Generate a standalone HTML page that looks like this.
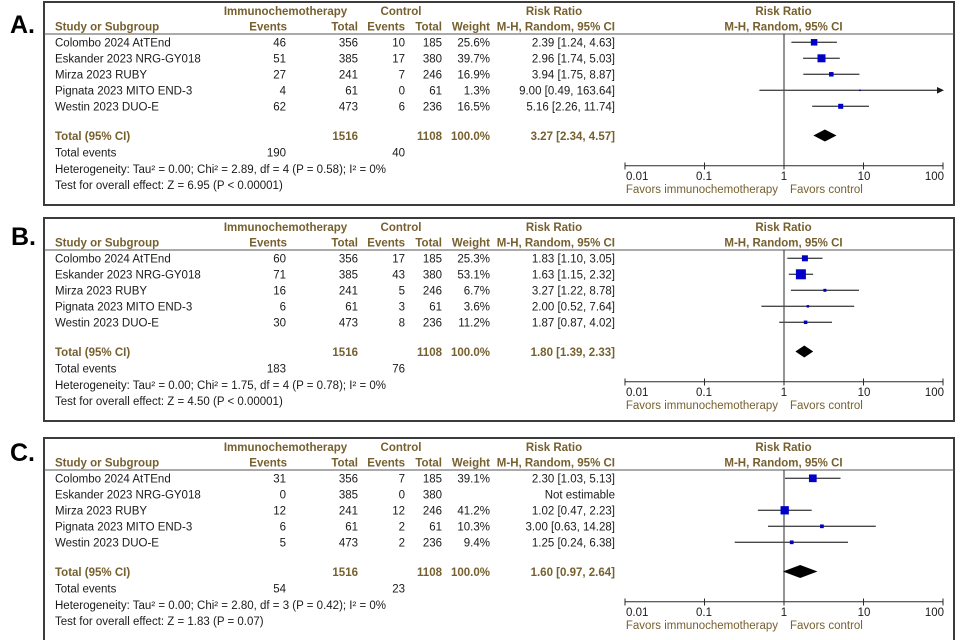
<!DOCTYPE html>
<html>
<head>
<meta charset="utf-8">
<style>
html,body{margin:0;padding:0;background:#fff;}
svg{display:block;}
.t{font-family:"Liberation Sans",Arial,sans-serif;font-size:11.5px;fill:#1a1a1a;}
.h{font-weight:bold;fill:#76602f;}
.f{fill:#76602f;}
.r{text-anchor:end;}
.m{text-anchor:middle;}
.lab{font-family:"Liberation Sans",Arial,sans-serif;font-size:25px;font-weight:bold;fill:#000;}
.ci{stroke:#4a4a4a;stroke-width:1.3;}
.sq{fill:#0000c8;}
.ax{stroke:#2a2a2a;stroke-width:1;fill:none;}
</style>
</head>
<body>
<svg width="966" height="640" viewBox="0 0 966 640" xmlns="http://www.w3.org/2000/svg">

<!-- Panel labels -->
<text class="lab" x="10" y="33">A.</text>
<text class="lab" x="11" y="245">B.</text>
<text class="lab" x="10" y="461">C.</text>

<!-- ================= PANEL A ================= -->
<g transform="translate(0,0)">
  <rect x="44" y="2" width="910" height="203" fill="none" stroke="#3c3c3c" stroke-width="2"/>
  <line x1="44" y1="34" x2="954" y2="34" stroke="#555" stroke-width="1"/>
  <g class="t">
    <text class="h m" x="285.5" y="15">Immunochemotherapy</text>
    <text class="h m" x="401" y="15">Control</text>
    <text class="h m" x="554" y="15">Risk Ratio</text>
    <text class="h" x="55" y="30.5">Study or Subgroup</text>
    <text class="h r" x="287" y="30.5">Events</text>
    <text class="h r" x="358" y="30.5">Total</text>
    <text class="h r" x="405" y="30.5">Events</text>
    <text class="h r" x="442" y="30.5">Total</text>
    <text class="h r" x="490" y="30.5">Weight</text>
    <text class="h r" x="615" y="30.5">M-H, Random, 95% CI</text>
    <text class="h m" x="783.5" y="15">Risk Ratio</text>
    <text class="h m" x="783.5" y="30.5">M-H, Random, 95% CI</text>

    <text x="55" y="46.5">Colombo 2024 AtTEnd</text>
    <text class="r" x="286" y="46.5">46</text><text class="r" x="358" y="46.5">356</text><text class="r" x="405" y="46.5">10</text><text class="r" x="442" y="46.5">185</text><text class="r" x="490" y="46.5">25.6%</text><text class="r" x="615" y="46.5">2.39 [1.24, 4.63]</text>
    <text x="55" y="62.5">Eskander 2023 NRG-GY018</text>
    <text class="r" x="286" y="62.5">51</text><text class="r" x="358" y="62.5">385</text><text class="r" x="405" y="62.5">17</text><text class="r" x="442" y="62.5">380</text><text class="r" x="490" y="62.5">39.7%</text><text class="r" x="615" y="62.5">2.96 [1.74, 5.03]</text>
    <text x="55" y="78.5">Mirza 2023 RUBY</text>
    <text class="r" x="286" y="78.5">27</text><text class="r" x="358" y="78.5">241</text><text class="r" x="405" y="78.5">7</text><text class="r" x="442" y="78.5">246</text><text class="r" x="490" y="78.5">16.9%</text><text class="r" x="615" y="78.5">3.94 [1.75, 8.87]</text>
    <text x="55" y="94.5">Pignata 2023 MITO END-3</text>
    <text class="r" x="286" y="94.5">4</text><text class="r" x="358" y="94.5">61</text><text class="r" x="405" y="94.5">0</text><text class="r" x="442" y="94.5">61</text><text class="r" x="490" y="94.5">1.3%</text><text class="r" x="615" y="94.5">9.00 [0.49, 163.64]</text>
    <text x="55" y="110.5">Westin 2023 DUO-E</text>
    <text class="r" x="286" y="110.5">62</text><text class="r" x="358" y="110.5">473</text><text class="r" x="405" y="110.5">6</text><text class="r" x="442" y="110.5">236</text><text class="r" x="490" y="110.5">16.5%</text><text class="r" x="615" y="110.5">5.16 [2.26, 11.74]</text>

    <text class="h" x="55" y="140">Total (95% CI)</text>
    <text class="h r" x="358" y="140">1516</text><text class="h r" x="442" y="140">1108</text><text class="h r" x="490" y="140">100.0%</text><text class="h r" x="615" y="140">3.27 [2.34, 4.57]</text>
    <text x="55" y="156.5">Total events</text>
    <text class="r" x="286" y="156.5">190</text><text class="r" x="405" y="156.5">40</text>
    <text x="55" y="173">Heterogeneity: Tau² = 0.00; Chi² = 2.89, df = 4 (P = 0.58); I² = 0%</text>
    <text x="55" y="189">Test for overall effect: Z = 6.95 (P &lt; 0.00001)</text>

    <text x="626" y="180">0.01</text>
    <text class="m" x="704" y="180">0.1</text>
    <text class="m" x="784" y="180">1</text>
    <text class="m" x="864" y="180">10</text>
    <text class="r" x="944" y="180">100</text>
    <text class="f r" x="778" y="193">Favors immunochemotherapy</text>
    <text class="f" x="790" y="193">Favors control</text>
  </g>
  <line class="ax" x1="784" y1="34" x2="784" y2="166"/>
  <line class="ax" x1="625" y1="165.7" x2="943" y2="165.7"/>
  <path class="ax" d="M625 162.5V169.5M704.5 162.5V169.5M784 162.5V169.5M863.5 162.5V169.5M943 162.5V169.5"/>
  <line class="ci" x1="791.4" y1="42.3" x2="836.9" y2="42.3"/>
  <rect class="sq" x="810.85" y="39.05" width="6.5" height="6.5"/>
  <line class="ci" x1="803.1" y1="58.3" x2="839.8" y2="58.3"/>
  <rect class="sq" x="817.5" y="54.3" width="8" height="8"/>
  <line class="ci" x1="803.3" y1="74.3" x2="859.4" y2="74.3"/>
  <rect class="sq" x="829.05" y="72.05" width="4.5" height="4.5"/>
  <line class="ci" x1="759.4" y1="90.3" x2="938" y2="90.3"/>
  <polygon points="937,87 944,90.3 937,93.6" fill="#1a1a1a"/>
  <rect class="sq" x="859.1" y="89.5" width="1.6" height="1.6"/>
  <line class="ci" x1="812.2" y1="106.3" x2="869" y2="106.3"/>
  <rect class="sq" x="838.2" y="103.8" width="5" height="5"/>
  <polygon points="813.4,135.5 824.9,129.5 836.5,135.5 824.9,141.5" fill="#000"/>
</g>

<!-- ================= PANEL B ================= -->
<g transform="translate(0,216)">
  <rect x="44" y="2" width="910" height="203" fill="none" stroke="#3c3c3c" stroke-width="2"/>
  <line x1="44" y1="34" x2="954" y2="34" stroke="#555" stroke-width="1"/>
  <g class="t">
    <text class="h m" x="285.5" y="15">Immunochemotherapy</text>
    <text class="h m" x="401" y="15">Control</text>
    <text class="h m" x="554" y="15">Risk Ratio</text>
    <text class="h" x="55" y="30.5">Study or Subgroup</text>
    <text class="h r" x="287" y="30.5">Events</text>
    <text class="h r" x="358" y="30.5">Total</text>
    <text class="h r" x="405" y="30.5">Events</text>
    <text class="h r" x="442" y="30.5">Total</text>
    <text class="h r" x="490" y="30.5">Weight</text>
    <text class="h r" x="615" y="30.5">M-H, Random, 95% CI</text>
    <text class="h m" x="783.5" y="15">Risk Ratio</text>
    <text class="h m" x="783.5" y="30.5">M-H, Random, 95% CI</text>

    <text x="55" y="46.5">Colombo 2024 AtTEnd</text>
    <text class="r" x="286" y="46.5">60</text><text class="r" x="358" y="46.5">356</text><text class="r" x="405" y="46.5">17</text><text class="r" x="442" y="46.5">185</text><text class="r" x="490" y="46.5">25.3%</text><text class="r" x="615" y="46.5">1.83 [1.10, 3.05]</text>
    <text x="55" y="62.5">Eskander 2023 NRG-GY018</text>
    <text class="r" x="286" y="62.5">71</text><text class="r" x="358" y="62.5">385</text><text class="r" x="405" y="62.5">43</text><text class="r" x="442" y="62.5">380</text><text class="r" x="490" y="62.5">53.1%</text><text class="r" x="615" y="62.5">1.63 [1.15, 2.32]</text>
    <text x="55" y="78.5">Mirza 2023 RUBY</text>
    <text class="r" x="286" y="78.5">16</text><text class="r" x="358" y="78.5">241</text><text class="r" x="405" y="78.5">5</text><text class="r" x="442" y="78.5">246</text><text class="r" x="490" y="78.5">6.7%</text><text class="r" x="615" y="78.5">3.27 [1.22, 8.78]</text>
    <text x="55" y="94.5">Pignata 2023 MITO END-3</text>
    <text class="r" x="286" y="94.5">6</text><text class="r" x="358" y="94.5">61</text><text class="r" x="405" y="94.5">3</text><text class="r" x="442" y="94.5">61</text><text class="r" x="490" y="94.5">3.6%</text><text class="r" x="615" y="94.5">2.00 [0.52, 7.64]</text>
    <text x="55" y="110.5">Westin 2023 DUO-E</text>
    <text class="r" x="286" y="110.5">30</text><text class="r" x="358" y="110.5">473</text><text class="r" x="405" y="110.5">8</text><text class="r" x="442" y="110.5">236</text><text class="r" x="490" y="110.5">11.2%</text><text class="r" x="615" y="110.5">1.87 [0.87, 4.02]</text>

    <text class="h" x="55" y="140">Total (95% CI)</text>
    <text class="h r" x="358" y="140">1516</text><text class="h r" x="442" y="140">1108</text><text class="h r" x="490" y="140">100.0%</text><text class="h r" x="615" y="140">1.80 [1.39, 2.33]</text>
    <text x="55" y="156.5">Total events</text>
    <text class="r" x="286" y="156.5">183</text><text class="r" x="405" y="156.5">76</text>
    <text x="55" y="173">Heterogeneity: Tau² = 0.00; Chi² = 1.75, df = 4 (P = 0.78); I² = 0%</text>
    <text x="55" y="189">Test for overall effect: Z = 4.50 (P &lt; 0.00001)</text>

    <text x="626" y="180">0.01</text>
    <text class="m" x="704" y="180">0.1</text>
    <text class="m" x="784" y="180">1</text>
    <text class="m" x="864" y="180">10</text>
    <text class="r" x="944" y="180">100</text>
    <text class="f r" x="778" y="193">Favors immunochemotherapy</text>
    <text class="f" x="790" y="193">Favors control</text>
  </g>
  <line class="ax" x1="784" y1="34" x2="784" y2="166"/>
  <line class="ax" x1="625" y1="165.7" x2="943" y2="165.7"/>
  <path class="ax" d="M625 162.5V169.5M704.5 162.5V169.5M784 162.5V169.5M863.5 162.5V169.5M943 162.5V169.5"/>
  <line class="ci" x1="787.3" y1="42.3" x2="822.5" y2="42.3"/>
  <rect class="sq" x="801.9" y="39.3" width="6" height="6"/>
  <line class="ci" x1="788.8" y1="58.3" x2="813.1" y2="58.3"/>
  <rect class="sq" x="795.9" y="53.3" width="10" height="10"/>
  <line class="ci" x1="790.9" y1="74.3" x2="859" y2="74.3"/>
  <rect class="sq" x="823.4" y="72.8" width="3" height="3"/>
  <line class="ci" x1="761.4" y1="90.3" x2="854.2" y2="90.3"/>
  <rect class="sq" x="806.65" y="89.05" width="2.5" height="2.5"/>
  <line class="ci" x1="779.2" y1="106.3" x2="832" y2="106.3"/>
  <rect class="sq" x="803.85" y="104.55" width="3.5" height="3.5"/>
  <polygon points="795.4,135.5 804.3,129.5 813.2,135.5 804.3,141.5" fill="#000"/>
</g>

<!-- ================= PANEL C ================= -->
<g transform="translate(0,436)">
  <rect x="44" y="2" width="910" height="203" fill="none" stroke="#3c3c3c" stroke-width="2"/>
  <line x1="44" y1="34" x2="954" y2="34" stroke="#555" stroke-width="1"/>
  <g class="t">
    <text class="h m" x="285.5" y="15">Immunochemotherapy</text>
    <text class="h m" x="401" y="15">Control</text>
    <text class="h m" x="554" y="15">Risk Ratio</text>
    <text class="h" x="55" y="30.5">Study or Subgroup</text>
    <text class="h r" x="287" y="30.5">Events</text>
    <text class="h r" x="358" y="30.5">Total</text>
    <text class="h r" x="405" y="30.5">Events</text>
    <text class="h r" x="442" y="30.5">Total</text>
    <text class="h r" x="490" y="30.5">Weight</text>
    <text class="h r" x="615" y="30.5">M-H, Random, 95% CI</text>
    <text class="h m" x="783.5" y="15">Risk Ratio</text>
    <text class="h m" x="783.5" y="30.5">M-H, Random, 95% CI</text>

    <text x="55" y="46.5">Colombo 2024 AtTEnd</text>
    <text class="r" x="286" y="46.5">31</text><text class="r" x="358" y="46.5">356</text><text class="r" x="405" y="46.5">7</text><text class="r" x="442" y="46.5">185</text><text class="r" x="490" y="46.5">39.1%</text><text class="r" x="615" y="46.5">2.30 [1.03, 5.13]</text>
    <text x="55" y="62.5">Eskander 2023 NRG-GY018</text>
    <text class="r" x="286" y="62.5">0</text><text class="r" x="358" y="62.5">385</text><text class="r" x="405" y="62.5">0</text><text class="r" x="442" y="62.5">380</text><text class="r" x="615" y="62.5">Not estimable</text>
    <text x="55" y="78.5">Mirza 2023 RUBY</text>
    <text class="r" x="286" y="78.5">12</text><text class="r" x="358" y="78.5">241</text><text class="r" x="405" y="78.5">12</text><text class="r" x="442" y="78.5">246</text><text class="r" x="490" y="78.5">41.2%</text><text class="r" x="615" y="78.5">1.02 [0.47, 2.23]</text>
    <text x="55" y="94.5">Pignata 2023 MITO END-3</text>
    <text class="r" x="286" y="94.5">6</text><text class="r" x="358" y="94.5">61</text><text class="r" x="405" y="94.5">2</text><text class="r" x="442" y="94.5">61</text><text class="r" x="490" y="94.5">10.3%</text><text class="r" x="615" y="94.5">3.00 [0.63, 14.28]</text>
    <text x="55" y="110.5">Westin 2023 DUO-E</text>
    <text class="r" x="286" y="110.5">5</text><text class="r" x="358" y="110.5">473</text><text class="r" x="405" y="110.5">2</text><text class="r" x="442" y="110.5">236</text><text class="r" x="490" y="110.5">9.4%</text><text class="r" x="615" y="110.5">1.25 [0.24, 6.38]</text>

    <text class="h" x="55" y="140">Total (95% CI)</text>
    <text class="h r" x="358" y="140">1516</text><text class="h r" x="442" y="140">1108</text><text class="h r" x="490" y="140">100.0%</text><text class="h r" x="615" y="140">1.60 [0.97, 2.64]</text>
    <text x="55" y="156.5">Total events</text>
    <text class="r" x="286" y="156.5">54</text><text class="r" x="405" y="156.5">23</text>
    <text x="55" y="173">Heterogeneity: Tau² = 0.00; Chi² = 2.80, df = 3 (P = 0.42); I² = 0%</text>
    <text x="55" y="189">Test for overall effect: Z = 1.83 (P = 0.07)</text>

    <text x="626" y="180">0.01</text>
    <text class="m" x="704" y="180">0.1</text>
    <text class="m" x="784" y="180">1</text>
    <text class="m" x="864" y="180">10</text>
    <text class="r" x="944" y="180">100</text>
    <text class="f r" x="778" y="193">Favors immunochemotherapy</text>
    <text class="f" x="790" y="193">Favors control</text>
  </g>
  <line class="ax" x1="784" y1="34" x2="784" y2="166"/>
  <line class="ax" x1="625" y1="165.7" x2="943" y2="165.7"/>
  <path class="ax" d="M625 162.5V169.5M704.5 162.5V169.5M784 162.5V169.5M863.5 162.5V169.5M943 162.5V169.5"/>
  <line class="ci" x1="785" y1="42.3" x2="840.5" y2="42.3"/>
  <rect class="sq" x="808.95" y="38.45" width="7.7" height="7.7"/>
  <line class="ci" x1="757.9" y1="74.3" x2="811.7" y2="74.3"/>
  <rect class="sq" x="780.55" y="70.15" width="8.3" height="8.3"/>
  <line class="ci" x1="768" y1="90.3" x2="875.8" y2="90.3"/>
  <rect class="sq" x="820.05" y="88.45" width="3.7" height="3.7"/>
  <line class="ci" x1="734.7" y1="106.3" x2="848" y2="106.3"/>
  <rect class="sq" x="789.85" y="104.45" width="3.7" height="3.7"/>
  <polygon points="782.9,135.5 800.2,129 817.5,135.5 800.2,142" fill="#000"/>
</g>

</svg>
</body>
</html>
